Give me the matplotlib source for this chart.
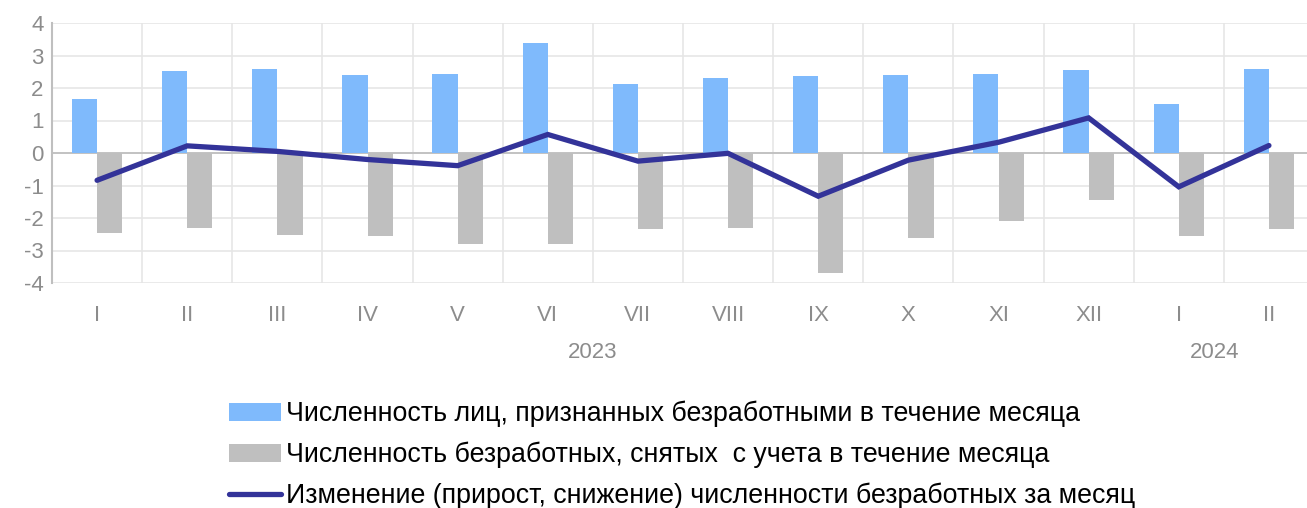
import matplotlib.pyplot as plt
from matplotlib.patches import Patch
from matplotlib.lines import Line2D
from matplotlib.transforms import blended_transform_factory

plt.rcParams['font.family'] = ['Liberation Sans', 'DejaVu Sans']
plt.rcParams['axes.unicode_minus'] = False

months = ['I', 'II', 'III', 'IV', 'V', 'VI', 'VII', 'VIII', 'IX', 'X', 'XI', 'XII', 'I', 'II']
registered = [1.66, 2.52, 2.57, 2.39, 2.42, 3.40, 2.11, 2.30, 2.37, 2.39, 2.44, 2.56, 1.52, 2.59]
removed = [-2.46, -2.30, -2.51, -2.56, -2.80, -2.81, -2.34, -2.30, -3.68, -2.61, -2.10, -1.46, -2.56, -2.34]
change = [-0.84, 0.22, 0.05, -0.20, -0.39, 0.57, -0.25, -0.01, -1.33, -0.22, 0.33, 1.08, -1.04, 0.23]
years = ['2023', '2024']
year_pos = [5.5, 12.4]

labels = ['Численность лиц, признанных безработными в течение месяца',
          'Численность безработных, снятых  с учета в течение месяца',
          'Изменение (прирост, снижение) численности безработных за месяц']

blue = '#7FBAFC'
grey = '#BFBFBF'
navy = '#333399'
tick_col = '#8C8C8C'

fig = plt.figure(figsize=(13.07, 5.08), dpi=100)
ax = fig.add_axes([52 / 1307, 1 - 283 / 508, 1262 / 1307, 260 / 508])

x = list(range(len(months)))
w = 0.28
ax.bar([i - w / 2 for i in x], registered, width=w, color=blue, zorder=2)
ax.bar([i + w / 2 for i in x], removed, width=w, color=grey, zorder=2)
ax.plot(x, change, color=navy, linewidth=3.8, solid_capstyle='round',
        solid_joinstyle='miter', zorder=3)

ax.set_xlim(-0.5, 13.5)
ax.set_ylim(-4, 4)
ax.set_yticks(range(-4, 5))
ax.set_xticks(x)
ax.set_xticklabels(months)
ax.tick_params(length=0, labelsize=16, colors=tick_col)
ax.tick_params(axis='x', pad=16)
ax.tick_params(axis='y', pad=6)

for v in range(-4, 5):
    ax.axhline(v, color='#E6E6E6', linewidth=1.2, zorder=0)
for b in range(1, 15):
    ax.axvline(b - 0.5, color='#E6E6E6', linewidth=1.2, zorder=0)
ax.axhline(0, color='#BFBFBF', linewidth=1.3, zorder=1)

for s in ['top', 'right', 'bottom']:
    ax.spines[s].set_visible(False)
ax.spines['left'].set_color('#BFBFBF')
ax.spines['left'].set_linewidth(1.5)

trans = blended_transform_factory(ax.transData, fig.transFigure)
for xp, yr in zip(year_pos, years):
    ax.text(xp, 1 - 352 / 508, yr, transform=trans, ha='center', va='center',
            fontsize=16, color=tick_col)

handles = [Patch(facecolor=blue), Patch(facecolor=grey),
           Line2D([0], [0], color=navy, linewidth=3.8, solid_capstyle='round')]
fig.legend(handles, labels, loc='upper left', bbox_to_anchor=(229 / 1307, 1 - 401 / 508),
           frameon=False, fontsize=19.3, handlelength=1.93, handletextpad=0.19,
           labelspacing=0.54, borderpad=0, borderaxespad=0)

fig.savefig('out.png', dpi=100)
